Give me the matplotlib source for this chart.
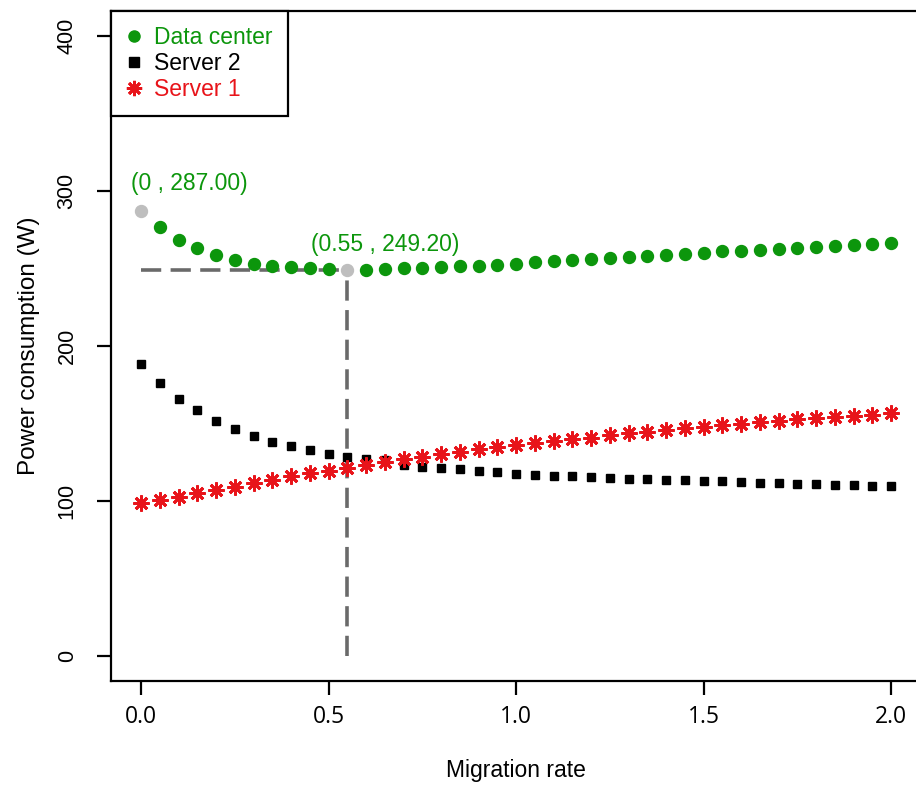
import numpy as np
import matplotlib
matplotlib.use("Agg")
import matplotlib.pyplot as plt
from matplotlib.lines import Line2D

# ---- data ----
migration_rate = [round(0.05 * i, 2) for i in range(41)]

data_center = [287.0, 276.5, 268.6, 263.0, 258.5, 255.7, 253.0, 251.4, 250.8, 250.2,
               249.8, 249.2, 249.3, 249.7, 250.1, 250.6, 251.0, 251.4, 251.9, 252.3,
               253.0, 254.2, 254.9, 255.5, 256.2, 257.0, 257.6, 258.3, 258.7, 259.4,
               260.0, 261.1, 261.5, 262.2, 262.6, 263.3, 263.9, 264.3, 265.0, 265.6,
               266.2]
server2 = [188.5, 176.1, 166.0, 158.5, 151.6, 146.7, 142.2, 138.1, 135.5, 132.7,
           130.3, 128.2, 126.9, 126.2, 123.5, 122.2, 121.5, 120.4, 119.2, 118.7,
           117.7, 117.0, 116.4, 115.9, 115.3, 114.9, 114.4, 114.0, 113.8, 113.4,
           112.9, 112.7, 112.1, 111.6, 111.4, 111.2, 110.8, 110.6, 110.3, 109.9,
           109.7]
server1 = [99.0, 100.7, 102.9, 105.0, 107.1, 109.3, 111.4, 113.6, 115.9, 117.9,
           119.6, 121.1, 123.2, 125.2, 126.9, 128.6, 130.1, 131.9, 133.3, 134.8,
           135.9, 137.2, 138.5, 139.8, 140.9, 142.4, 143.6, 144.7, 145.8, 146.9,
           147.7, 148.8, 149.9, 150.7, 151.8, 152.7, 153.3, 154.4, 155.1, 155.7,
           156.5]

highlight_x = [0.0, 0.55]
highlight_y = [287.00, 249.20]
highlight_labels = ["(0 , 287.00)", "(0.55 , 249.20)"]

x_ticks = [0.0, 0.5, 1.0, 1.5, 2.0]
x_ticklabels = ["0.0", "0.5", "1.0", "1.5", "2.0"]
y_ticks = [0, 100, 200, 300, 400]
series_names = ["Data center", "Server 2", "Server 1"]

GREEN = "#0c960c"
RED = "#e8141a"
GREY = "#bebebe"
DASH = "#6a6a6a"

plt.rcParams['font.family'] = ['Liberation Sans', 'DejaVu Sans']

fig = plt.figure(figsize=(9.16, 7.89), dpi=100)
ax = fig.add_axes([111 / 916, (789 - 681) / 789, 810 / 916, 670 / 789])

# reference lines
opt_x, opt_y = highlight_x[1], highlight_y[1]
ax.plot([0, opt_x], [opt_y, opt_y], color=DASH, lw=2.6, dashes=(5.6, 2.6), zorder=1)
ax.plot([opt_x, opt_x], [0, opt_y], color=DASH, lw=2.6, dashes=(5.6, 2.6), zorder=1)

# series
dc_x = [x for x in migration_rate if x not in highlight_x]
dc_y = [y for x, y in zip(migration_rate, data_center) if x not in highlight_x]
ax.plot(dc_x, dc_y, linestyle='none', marker='o', ms=8.6, color=GREEN, mec=GREEN, zorder=3)
ax.plot(highlight_x, highlight_y, linestyle='none', marker='o', ms=8.6, color=GREY, mec=GREY, zorder=3)
ax.plot(migration_rate, server2, linestyle='none', marker='s', ms=6.4, color='black', zorder=3)
ax.plot(migration_rate, server1, linestyle='none', marker=(8, 2, 0), ms=11.5, mew=2.0,
        color=RED, mec=RED, zorder=4)

# annotations
ax.text(0.13, 305, highlight_labels[0], color=GREEN, fontsize=16.5, ha='center', va='center')
ax.text(0.65, 265.5, highlight_labels[1], color=GREEN, fontsize=16.5, ha='center', va='center')

ax.set_xlim(-0.08, 2.08)
ax.set_ylim(-16, 416)
ax.set_xticks(x_ticks)
ax.set_xticklabels(x_ticklabels, fontsize=16.5, family=['Open Sans', 'DejaVu Sans'])
ax.set_yticks(y_ticks)
ax.set_yticklabels([str(v) for v in y_ticks], fontsize=15.5, rotation=90, va='center')
ax.tick_params(axis='both', direction='out', length=10, width=1.6, color='black')
ax.tick_params(axis='x', pad=7)
ax.tick_params(axis='y', pad=14)
for s in ax.spines.values():
    s.set_linewidth(1.6)

ax.set_xlabel("Migration rate", fontsize=16.5, labelpad=22)
ax.set_ylabel("Power consumption (W)", fontsize=17.5, labelpad=12)

handles = [
    Line2D([], [], linestyle='none', marker='o', ms=8, color=GREEN),
    Line2D([], [], linestyle='none', marker='s', ms=7, color='black'),
    Line2D([], [], linestyle='none', marker=(8, 2, 0), ms=11, mew=2.0, color=RED),
]
leg = ax.legend(handles, series_names, loc='upper left', bbox_to_anchor=(0, 1),
                borderaxespad=0, fancybox=False, edgecolor='black', fontsize=16.5,
                handlelength=0.7, handletextpad=0.5, labelspacing=0.12,
                borderpad=0.67, framealpha=1)
leg.get_frame().set_linewidth(1.6)
for t, c in zip(leg.get_texts(), [GREEN, 'black', RED]):
    t.set_color(c)

fig.savefig("out.png", dpi=100)
